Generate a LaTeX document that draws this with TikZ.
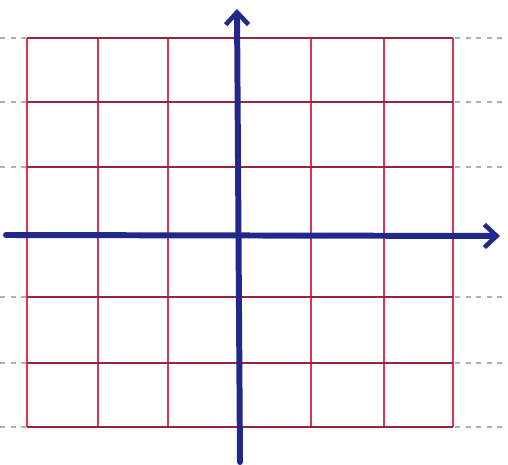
\documentclass[tikz,border=0pt]{standalone}
\usepackage{xcolor}
\usepackage{tikz}
\usetikzlibrary{arrows.meta}

\definecolor{gridred}{RGB}{218,52,82}
\definecolor{rulered}{RGB}{150,38,58}
\definecolor{axisblue}{RGB}{34,40,138}
\definecolor{papergray}{RGB}{175,175,180}

\begin{document}
\begin{tikzpicture}[
  x=0.02cm, y=-0.02cm,
  vline/.style={gridred, line width=1.1pt},
  hline/.style={rulered, line width=1.2pt},
  paper/.style={papergray, dashed, line width=0.6pt},
  axis/.style={axisblue, line width=3.4pt, line cap=round,
               -{Straight Barb[length=7pt, width=13pt, line width=2.6pt]}},
]
%% ---- Page ----
\useasboundingbox[fill=white] (0,0) rectangle (508,465);

%% ---- Notebook rulings outside the grid ----
\foreach \yy in {38,102,167,297,363,427} {
  \draw[paper] (0,\yy) -- (27,\yy);
  \draw[paper] (455,\yy) -- (508,\yy);
}

%% ---- Grid (6 x 6 squares) ----
\foreach \xx in {27,98,168,311,384,453}
  \draw[vline] (\xx,38) -- (\xx,427);
\foreach \yy in {38,102,167,297,363,427}
  \draw[hline] (27,\yy) -- (453,\yy);

%% ---- Axes ----
\coordinate (xl) at (6,235);
\coordinate (xr) at (500,236);
\coordinate (yb) at (240,462);
\coordinate (yt) at (237,9);
\draw[axis] (xl) -- (xr);
\draw[axis] (yb) -- (yt);
\end{tikzpicture}
\end{document}
